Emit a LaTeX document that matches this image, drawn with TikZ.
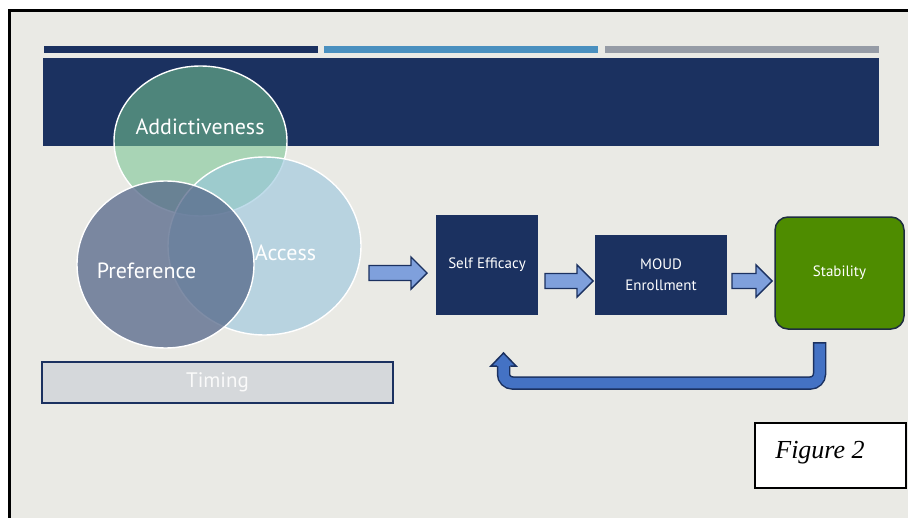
\documentclass[tikz,border=0pt]{standalone}
\usepackage{fontspec}
\setmainfont{PT Sans}
\newfontfamily\captionfont{Liberation Serif}
\usetikzlibrary{shapes.geometric}

\definecolor{slidenavy}{HTML}{1B3160}
\definecolor{barblue}{HTML}{4A90BF}
\definecolor{bargray}{HTML}{969CA6}
\definecolor{paper}{HTML}{EAEAE5}
\definecolor{arrowfill}{HTML}{7FA0DC}
\definecolor{loopfill}{HTML}{4472C4}
\definecolor{stabgreen}{HTML}{4E8C00}
\definecolor{stabline}{HTML}{1E2D40}
\definecolor{timingfill}{HTML}{D5D8DB}
\definecolor{addictfill}{RGB}{118,197,145}
\definecolor{accessfill}{RGB}{151,197,221}
\definecolor{preffill}{RGB}{85,103,137}

\begin{document}
\begin{tikzpicture}[x=0.5pt,y=-0.5pt,
    venn/.style={ellipse, draw=white, line width=0.7pt, inner sep=0pt},
    vennlabel/.style={text=white, font=\fontsize{11}{13}\selectfont},
    flowbox/.style={draw=slidenavy, fill=slidenavy, text=white, align=center,
      line width=0.6pt, font=\fontsize{7.5}{10.5}\selectfont, inner sep=0pt},
    pics/fatarrow/.style={code={
      \filldraw[draw=slidenavy, fill=arrowfill, line width=0.7pt, line join=miter]
        (0,-7.5) -- (#1-16,-7.5) -- (#1-16,-16) -- (#1,0) -- (#1-16,16)
        -- (#1-16,7.5) -- (0,7.5) -- cycle;}}]
  \useasboundingbox (0,0) rectangle (908,518);
  % slide background and frame
  \fill[white] (0,0) rectangle (908,518);
  \fill[paper] (10,11) rectangle (908,518);
  \draw[black, line width=1.2pt] (9.5,518) -- (9.5,10.5) -- (908,10.5);
  % header bars
  \fill[slidenavy] (44,46) rectangle (318,53);
  \fill[barblue] (324,46) rectangle (598,53);
  \fill[bargray] (605,46) rectangle (879,53);
  \fill[slidenavy] (43,58) rectangle (879,146);

  % venn diagram
  \node[venn, fill=addictfill, fill opacity=0.57, minimum width=86.5pt, minimum height=75pt] (addict) at (200.5,141) {};
  \node[venn, fill=accessfill, fill opacity=0.6, minimum width=96.5pt, minimum height=89pt] (access) at (264.5,246) {};
  \node[venn, fill=preffill, fill opacity=0.75, minimum width=88.5pt, minimum height=83.5pt] (pref) at (165.5,264.5) {};
  \node[vennlabel] (addictlbl) at (200,127) {Addictiveness};
  \node[vennlabel] (accesslbl) at (285.5,253) {Access};
  \node[vennlabel] (preflbl) at (146.5,271) {Preference};

  \node[draw=slidenavy, fill=timingfill, line width=0.75pt, minimum width=175.5pt,
    minimum height=20.5pt, inner sep=0pt, text=white!96!gray,
    font=\fontsize{10.5}{12}\selectfont] (timing) at (217.5,382.5) {Timing};

  % flow
  \pic at (369,273) {fatarrow=58};
  \node[flowbox, minimum width=50pt, minimum height=49pt] (seff) at (487,265) {Self Efficacy};
  \pic at (545,281) {fatarrow=48};
  \node[flowbox, minimum width=65pt, minimum height=39pt] (moud) at (661,275) {MOUD\\Enrollment};
  \pic at (732,281) {fatarrow=40};
  \node[flowbox, draw=stabline, fill=stabgreen, rounded corners=6.5pt, line width=0.75pt,
    minimum width=64.5pt, minimum height=56pt] (stab) at (839.5,273) {Stability};

  % feedback loop
  \coordinate (loopstart) at (819.5,342);
  \coordinate (loopend) at (503.5,366);
  \draw[slidenavy, line width=6.75pt, rounded corners=4.5pt]
    (loopstart) -- (loopstart |- 0,383) -- (loopend |- 0,383) -- (loopend);
  \draw[loopfill, line width=5.25pt, rounded corners=4.5pt, shorten <=0.75pt]
    (loopstart) -- (loopstart |- 0,383) -- (loopend |- 0,383) -- ([yshift=0.5pt]loopend);
  \filldraw[draw=slidenavy, fill=loopfill, line width=0.75pt, line join=miter]
    (496.75,366) -- (491,366) -- (503.5,353) -- (516,366) -- (510.25,366);

  % caption
  \node[draw=black, fill=white, line width=0.7pt, minimum width=75.5pt, minimum height=32.5pt,
    inner sep=0pt] (figbox) at (830.5,455.5) {};
  \node[anchor=base, font=\captionfont\itshape\fontsize{13}{15}\selectfont] (figtext) at (820,458) {Figure 2};
\end{tikzpicture}
\end{document}
